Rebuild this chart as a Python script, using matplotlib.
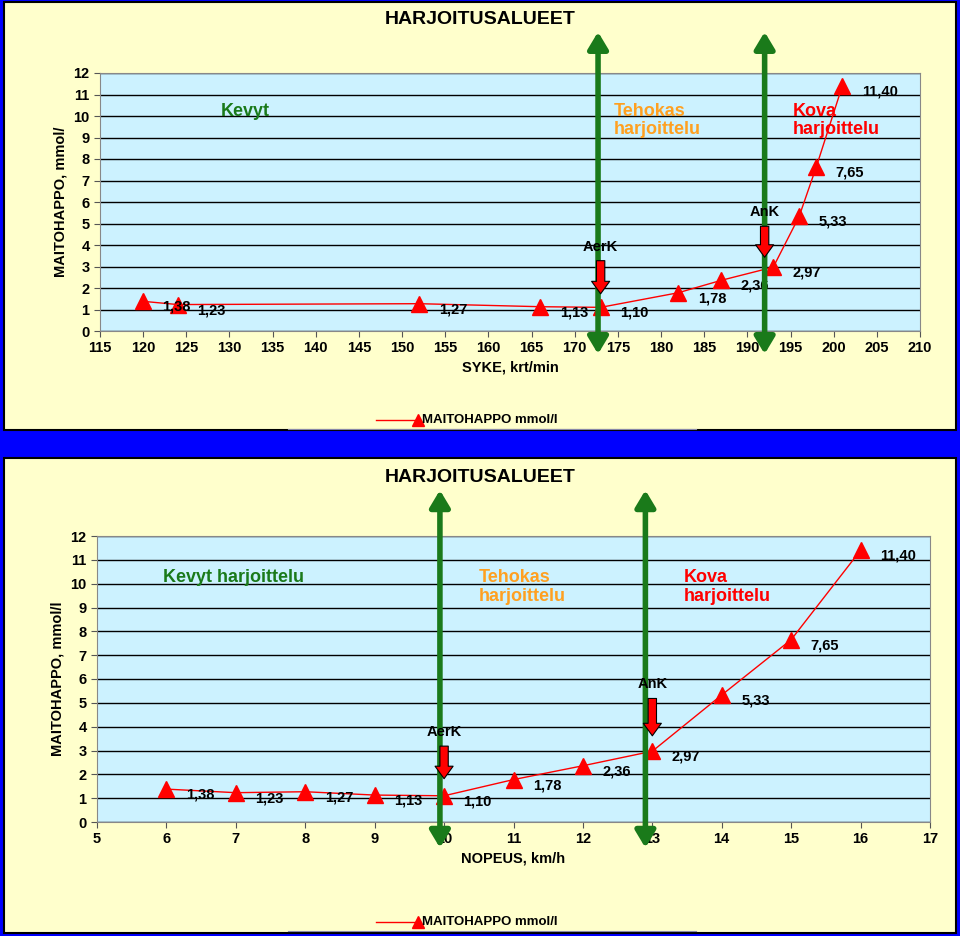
import matplotlib
matplotlib.use("Agg")
import matplotlib.pyplot as plt
from matplotlib.patches import Rectangle
from matplotlib.lines import Line2D

plt.rcParams["font.family"] = "Liberation Sans"
plt.rcParams["font.weight"] = "bold"

syke = [120, 124, 152, 166, 173, 182, 187, 193, 196, 198, 201]
nopeus = [6, 7, 8, 9, 10, 11, 12, 13, 14, 15, 16]
maito = [1.38, 1.23, 1.27, 1.13, 1.10, 1.78, 2.36, 2.97, 5.33, 7.65, 11.40]
labels = ["1,38", "1,23", "1,27", "1,13", "1,10", "1,78", "2,36", "2,97", "5,33", "7,65", "11,40"]

RED = "#ff0000"
GREEN = "#1a7a1a"
ORANGE = "#ffa020"
H = 936.0

fig = plt.figure(figsize=(9.6, 9.36), dpi=100, facecolor="#0000ff")


def panel(y0, y1):
    fig.patches.append(Rectangle((4 / 960, 1 - y1 / H), 952 / 960, (y1 - y0) / H,
                                 transform=fig.transFigure, facecolor="#ffffcc",
                                 edgecolor="black", lw=1.5, zorder=-5))


panel(2, 430)
panel(458, 933)


def chart(rect, xs, xlim, xticks, xlabel, greens, reds, zones, title_y, leg_y, ylab):
    ax = fig.add_axes(rect)
    ax.set_facecolor("#ccf2ff")
    ax.set_xlim(*xlim)
    ax.set_ylim(0, 12)
    ax.set_yticks(range(13))
    ax.set_xticks(xticks)
    ax.grid(axis="y", color="black", lw=1)
    ax.set_axisbelow(True)
    for s in ax.spines.values():
        s.set_color("#888888")
    ax.tick_params(labelsize=10.5, length=4, color="#555555")
    ax.plot(xs, maito, color=RED, lw=1, marker="^", ms=12, mfc=RED, mec=RED, zorder=4)
    for x, y, t in zip(xs, maito, labels):
        ax.annotate(t, (x, y), xytext=(14, -4), textcoords="offset points",
                    fontsize=10.5, fontweight="bold", va="center", zorder=5)
    trans = ax.get_xaxis_transform()
    for g in greens:
        ax.annotate("", xy=(g, 1.17), xytext=(g, -0.1), xycoords=trans, textcoords=trans,
                    arrowprops=dict(arrowstyle="<|-|>,head_width=0.6,head_length=1.0",
                                    color=GREEN, lw=4), annotation_clip=False, zorder=6)
    for (x, yt, yb, name) in reds:
        ax.annotate("", xy=(x, yb), xytext=(x, yt),
                    arrowprops=dict(arrowstyle="simple,head_width=1.3,head_length=0.9,tail_width=0.6",
                                    fc=RED, ec="black", lw=0.8), zorder=7)
        ax.text(x, yt + 0.2, name, ha="center", va="bottom", fontsize=10.5, fontweight="bold", zorder=7)
    for (x, y, t, c) in zones:
        ax.text(x, y, t, color=c, fontsize=13, fontweight="bold", va="top", linespacing=1.1)
    ax.set_xlabel(xlabel, fontsize=10.5, fontweight="bold")
    ax.set_ylabel(ylab, fontsize=10.5, fontweight="bold")
    fig.text(0.5, 1 - title_y / H, "HARJOITUSALUEET", ha="center", va="center",
             fontsize=14, fontweight="bold")
    # legend
    ly = 1 - leg_y / H
    fig.lines.append(Line2D([0.392, 0.435], [ly, ly], transform=fig.transFigure, color=RED,
                            lw=1, marker="^", markevery=[1], ms=9, mfc=RED, mec=RED))
    fig.text(0.44, ly, "MAITOHAPPO mmol/l", va="center", fontsize=9.5, fontweight="bold")
    fig.lines.append(Line2D([0.3, 0.725], [ly - 9 / H] * 2, transform=fig.transFigure,
                            color="#8888aa", lw=0.8))
    return ax


chart([100 / 960, 1 - 331 / H, 820 / 960, 258 / H], syke, (115, 210), range(115, 211, 5),
      "SYKE, krt/min", [172.7, 192.0],
      [(173, 3.4, 1.6, "AerK"), (192, 5.0, 3.3, "AnK")],
      [(129, 10.6, "Kevyt", GREEN), (174.5, 10.6, "Tehokas\nharjoittelu", ORANGE),
       (195.2, 10.6, "Kova\nharjoittelu", RED)],
      20, 420, "MAITOHAPPO, mmol/")

chart([97 / 960, 1 - 822 / H, 833 / 960, 286 / H], nopeus, (5, 17), range(5, 18),
      "NOPEUS, km/h", [9.94, 12.9],
      [(10, 3.3, 1.7, "AerK"), (13, 5.3, 3.5, "AnK")],
      [(5.95, 10.6, "Kevyt harjoittelu", GREEN), (10.5, 10.6, "Tehokas\nharjoittelu", ORANGE),
       (13.45, 10.6, "Kova\nharjoittelu", RED)],
      478, 922, "MAITOHAPPO, mmol/l")

fig.savefig("out.png", dpi=100, facecolor=fig.get_facecolor())
